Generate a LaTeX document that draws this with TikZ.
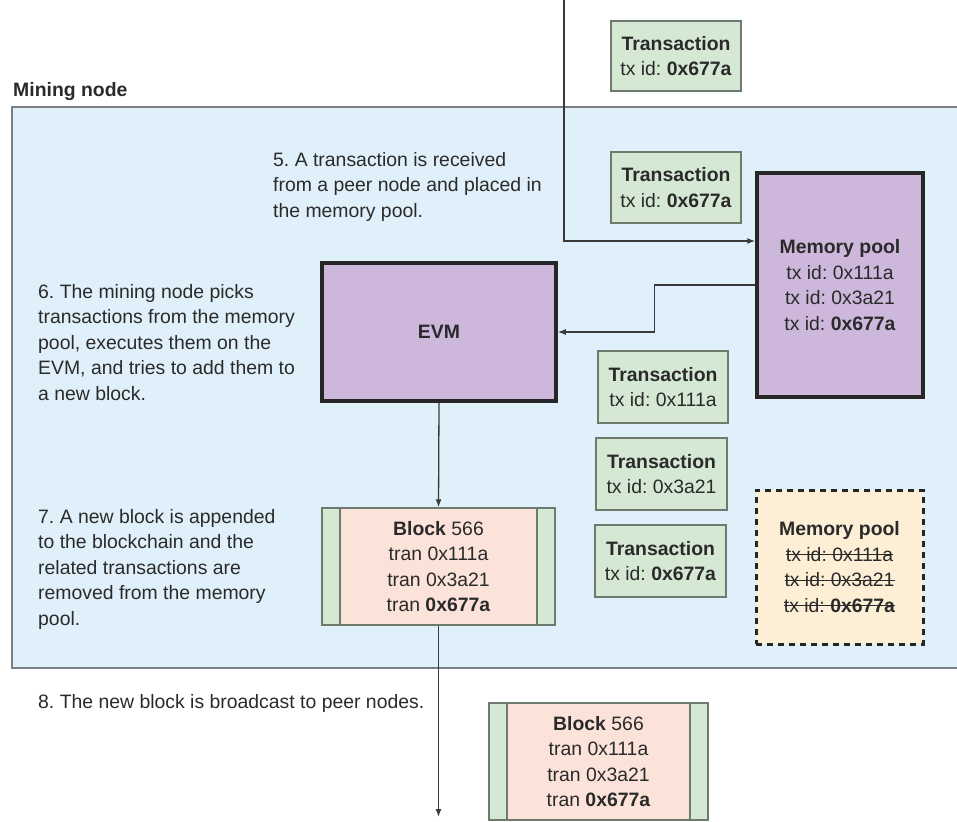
\documentclass[tikz,border=0pt]{standalone}
\usepackage{fontspec}
\setmainfont{Liberation Sans}
\usetikzlibrary{arrows.meta}
\frenchspacing

\definecolor{nodebg}{HTML}{DFF0FA}
\definecolor{nodeframe}{HTML}{7A7F84}
\definecolor{txgreen}{HTML}{D5E8D4}
\definecolor{txframe}{HTML}{6E7A6E}
\definecolor{evmpurple}{HTML}{CDB8DC}
\definecolor{blockpink}{HTML}{FBE3DA}
\definecolor{poolyellow}{HTML}{FDEFD6}
\definecolor{inkdark}{HTML}{2A2A2A}
\definecolor{linkgray}{HTML}{3A3A3A}

\newcommand{\txtsize}{\fontsize{19.4}{25.5}\selectfont}
% struck-through text
\newsavebox{\strkbox}
\newcommand{\strk}[1]{\sbox{\strkbox}{#1}\rlap{\usebox{\strkbox}}\rule[0.3em]{\wd\strkbox}{1.3pt}}

\begin{document}
\begin{tikzpicture}[x=1pt,y=-1pt,
  every node/.style={text=inkdark, font=\txtsize},
  txbox/.style={draw=txframe, line width=1.4pt, fill=txgreen, minimum width=130pt,
    minimum height=71pt, align=center, inner sep=0pt},
  purplebox/.style={draw=black!85, line width=3.5pt, fill=evmpurple, align=center, inner sep=0pt},
  blockbox/.style={draw=txframe, line width=1.4pt, fill=blockpink, align=center, inner sep=0pt,
    minimum height=117pt,
    path picture={
      \fill[txgreen] (path picture bounding box.south west) rectangle ([xshift=18pt]path picture bounding box.north west);
      \fill[txgreen] (path picture bounding box.south east) rectangle ([xshift=-18pt]path picture bounding box.north east);
      \draw[txframe, line width=1.4pt] ([xshift=18pt]path picture bounding box.south west) -- ([xshift=18pt]path picture bounding box.north west);
      \draw[txframe, line width=1.4pt] ([xshift=-18pt]path picture bounding box.south east) -- ([xshift=-18pt]path picture bounding box.north east);
    }},
  note/.style={anchor=north west, align=left, inner sep=0pt},
  link/.style={draw=linkgray, line width=1.3pt},
  arrowlink/.style={link, -{Latex[length=8pt,width=6pt]}}
]
\useasboundingbox (0,0) rectangle (957,821);

% mining node area
\node[anchor=base west, inner sep=0pt, font=\txtsize\bfseries] (minelabel) at (13,97) {Mining node};
\fill[nodebg] (12,107) rectangle (957,668);
\draw[nodeframe, line width=2pt] (957,107) -- (12,107) -- (12,668) -- (957,668);

% step notes
\node[note] (note5) at (273,152) {5. A transaction is received\\from a peer node and placed in\\the memory pool.};
\node[note] (note6) at (38,284) {6. The mining node picks\\transactions from the memory\\pool, executes them on the\\EVM, and tries to add them to\\a new block.};
\node[note] (note7) at (38,509) {7. A new block is appended\\to the blockchain and the\\related transactions are\\removed from the memory\\pool.};
\node[note] (note8) at (38,694) {8. The new block is broadcast to peer nodes.};

% incoming transaction
\node[txbox, minimum height=70pt] (txin) at (676,56) {\textbf{Transaction}\\tx id: \textbf{0x677a}};
\node[txbox] (txrecv) at (676,187.5) {\textbf{Transaction}\\tx id: \textbf{0x677a}};

% memory pool and EVM
\node[purplebox, minimum width=166pt, minimum height=224pt] (pool) at (840,285)
  {\textbf{Memory pool}\\tx id: 0x111a\\tx id: 0x3a21\\tx id: \textbf{0x677a}};
\node[purplebox, minimum width=234pt, minimum height=138pt] (evm) at (439,332) {\textbf{EVM}};

% picked transactions
\node[txbox, minimum height=72pt] (txa) at (663,387) {\textbf{Transaction}\\tx id: 0x111a};
\node[txbox, minimum width=131pt, minimum height=72pt] (txb) at (661.5,474) {\textbf{Transaction}\\tx id: 0x3a21};
\node[txbox, minimum width=131pt, minimum height=72pt] (txc) at (660.5,561) {\textbf{Transaction}\\tx id: \textbf{0x677a}};

% emptied memory pool
\node[draw=black!85, line width=3pt, dash pattern=on 6pt off 5pt, fill=poolyellow,
  minimum width=167pt, minimum height=154pt, align=center, inner sep=0pt] (emptypool) at (839.5,567)
  {\textbf{Memory pool}\\\strk{tx id: 0x111a}\\\strk{tx id: 0x3a21}\\\strk{tx id: \textbf{0x677a}}};

% blocks
\node[blockbox, minimum width=233pt] (block) at (438.5,566.5)
  {\textbf{Block} 566\\tran 0x111a\\tran 0x3a21\\tran \textbf{0x677a}};
\node[blockbox, minimum width=219pt] (sentblock) at (598.5,761.5)
  {\textbf{Block} 566\\tran 0x111a\\tran 0x3a21\\tran \textbf{0x677a}};

% connectors
\coordinate (peer) at (564,0);
\coordinate (bend) at (564,241);
\coordinate (peerout) at (438.5,817);
\draw[arrowlink] (peer) -- (bend) -- (bend -| pool.west);
\draw[arrowlink] (pool.west) -- ++(-101,0) |- (evm.east);
\draw[arrowlink] (evm.south) -- (block.north);
\draw[arrowlink] (block.south) -- (peerout);
\end{tikzpicture}
\end{document}
